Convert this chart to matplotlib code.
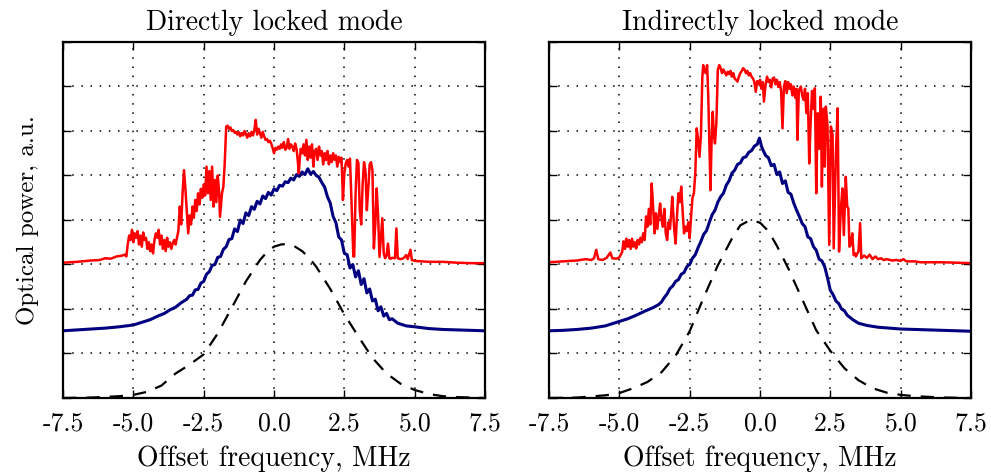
import matplotlib
matplotlib.use("Agg")
import matplotlib.pyplot as plt

# Directly locked mode
direct_red_x = [-7.5, -7.0, -6.5, -6.2, -6.0, -5.8, -5.6, -5.4, -5.3, -5.25, -5.2, -5.15, -5.1, -5.05, -5.0,
                -4.95, -4.9, -4.85, -4.8, -4.75, -4.7, -4.65, -4.6, -4.55, -4.5, -4.45, -4.4, -4.35, -4.3, -4.25,
                -4.2, -4.15, -4.1, -4.05, -4.0, -3.95, -3.9, -3.85, -3.8, -3.75, -3.7, -3.65, -3.6, -3.55, -3.5,
                -3.45, -3.4, -3.35, -3.3, -3.25, -3.2, -3.15, -3.1, -3.05, -3.0, -2.95, -2.9, -2.85, -2.8, -2.75,
                -2.7, -2.65, -2.6, -2.55, -2.5, -2.45, -2.4, -2.35, -2.3, -2.25, -2.2, -2.15, -2.1, -2.05, -2.0,
                -1.95, -1.92, -1.85, -1.8, -1.75, -1.7, -1.65, -1.6, -1.55, -1.5, -1.45, -1.4, -1.35, -1.3, -1.25,
                -1.2, -1.15, -1.1, -1.05, -1.0, -0.95, -0.9, -0.85, -0.8, -0.75, -0.7, -0.65, -0.6, -0.55, -0.5,
                -0.45, -0.4, -0.35, -0.3, -0.25, -0.2, -0.15, -0.1, -0.05, 0.0, 0.05, 0.1, 0.15, 0.2, 0.25,
                0.3, 0.35, 0.4, 0.45, 0.5, 0.55, 0.6, 0.65, 0.7, 0.75, 0.8, 0.85, 0.88, 0.92, 0.95,
                1.0, 1.05, 1.1, 1.15, 1.2, 1.25, 1.3, 1.35, 1.4, 1.45, 1.5, 1.55, 1.6, 1.65, 1.7,
                1.75, 1.8, 1.85, 1.9, 1.95, 2.0, 2.05, 2.1, 2.15, 2.2, 2.25, 2.3, 2.35, 2.4, 2.45,
                2.5, 2.55, 2.6, 2.65, 2.7, 2.75, 2.82, 2.85, 2.9, 2.95, 3.0, 3.05, 3.1, 3.15, 3.2,
                3.25, 3.3, 3.35, 3.4, 3.45, 3.5, 3.55, 3.6, 3.65, 3.7, 3.75, 3.8, 3.85, 3.9, 3.95,
                4.0, 4.05, 4.1, 4.15, 4.2, 4.3, 4.35, 4.4, 4.5, 4.6, 4.7, 4.75, 4.85, 4.9, 5.0,
                5.5, 6.0, 6.5, 7.0, 7.5]
direct_red_y = [3.04, 3.06, 3.09, 3.10, 3.14, 3.13, 3.18, 3.20, 3.22, 3.18, 3.45, 3.65, 3.55, 3.78, 3.50,
                3.70, 3.60, 3.75, 3.45, 3.65, 3.40, 3.72, 3.55, 3.60, 3.35, 3.50, 3.30, 3.45, 3.25, 3.55,
                3.70, 3.60, 3.78, 3.45, 3.65, 3.35, 3.55, 3.30, 3.60, 3.40, 3.50, 3.35, 3.48, 3.55, 3.45,
                3.60, 3.75, 4.30, 3.90, 4.60, 5.12, 4.70, 4.20, 3.70, 4.10, 3.90, 4.30, 4.05, 4.45, 4.20,
                4.60, 4.35, 4.70, 4.50, 4.80, 4.55, 5.20, 4.60, 5.10, 4.45, 5.20, 4.30, 4.90, 4.40, 5.00,
                4.60, 4.07, 4.60, 4.75, 5.30, 6.10, 6.12, 6.05, 6.08, 6.00, 6.02, 5.96, 5.98, 5.92, 5.97,
                5.88, 5.95, 5.90, 6.00, 5.93, 5.85, 5.95, 5.88, 5.98, 5.90, 6.02, 6.25, 5.92, 6.05, 5.95,
                5.85, 5.98, 5.88, 5.80, 5.82, 5.75, 5.78, 5.72, 5.62, 5.50, 5.62, 5.58, 5.65, 5.60, 5.70,
                5.62, 5.75, 5.58, 5.62, 5.82, 5.60, 5.70, 5.65, 5.55, 5.72, 5.60, 5.30, 5.05, 5.40, 5.60,
                5.50, 5.70, 5.45, 5.80, 5.35, 5.65, 5.40, 5.70, 5.20, 5.55, 5.60, 5.35, 5.65, 5.45, 5.55,
                5.25, 5.50, 5.35, 5.55, 5.25, 5.45, 5.30, 5.50, 5.35, 5.45, 5.20, 5.42, 5.30, 5.40, 4.45,
                5.05, 5.27, 5.35, 5.20, 5.38, 4.50, 3.18, 3.18, 4.60, 5.35, 5.28, 4.20, 3.90, 4.80, 5.30,
                5.10, 4.22, 4.70, 5.25, 5.30, 5.10, 3.36, 3.90, 4.71, 4.10, 3.17, 3.60, 4.04, 3.25, 3.14,
                3.20, 3.47, 3.14, 3.13, 3.15, 3.14, 3.81, 3.14, 3.12, 3.14, 3.21, 3.12, 3.33, 3.10, 3.08,
                3.06, 3.06, 3.04, 3.03, 3.03]

direct_blue_x = [-7.5, -7.0, -6.5, -6.0, -5.5, -5.0, -4.7, -4.4, -4.1, -3.9, -3.7, -3.5, -3.3, -3.1,
                 -3.0, -2.9, -2.8, -2.7, -2.6, -2.5, -2.4, -2.3, -2.2, -2.1, -2.0, -1.9, -1.8, -1.7,
                 -1.6, -1.5, -1.4, -1.3, -1.2, -1.1, -1.0, -0.9, -0.8, -0.7, -0.6, -0.5, -0.4, -0.3,
                 -0.2, -0.1, 0.0, 0.1, 0.2, 0.3, 0.4, 0.5, 0.6, 0.7, 0.8, 0.9, 1.0, 1.1, 1.2, 1.3,
                 1.4, 1.5, 1.6, 1.7, 1.8, 1.9, 2.0, 2.1, 2.2, 2.3, 2.4, 2.5, 2.6, 2.7, 2.8, 2.9,
                 3.0, 3.1, 3.2, 3.3, 3.4, 3.5, 3.6, 3.7, 3.8, 3.9, 4.0, 4.1, 4.2, 4.4, 4.7, 5.0,
                 5.5, 6.0, 6.5, 7.0, 7.5]
direct_blue_y = [1.51, 1.53, 1.55, 1.57, 1.60, 1.64, 1.70, 1.76, 1.85, 1.90, 1.98, 2.04, 2.14, 2.22,
                 2.30, 2.31, 2.43, 2.44, 2.58, 2.62, 2.78, 2.84, 2.98, 3.00, 3.16, 3.18, 3.34, 3.40,
                 3.56, 3.58, 3.80, 3.74, 4.00, 3.92, 4.16, 4.10, 4.30, 4.24, 4.42, 4.36, 4.54, 4.48,
                 4.62, 4.56, 4.70, 4.66, 4.78, 4.76, 4.86, 4.84, 4.94, 4.90, 5.02, 4.98, 5.08, 5.02, 5.15, 5.03,
                 5.09, 5.00, 4.96, 4.84, 4.74, 4.52, 4.38, 4.08, 3.94, 3.62, 3.55, 3.25, 3.22, 2.92, 3.00, 2.72,
                 2.86, 2.55, 2.68, 2.36, 2.45, 2.18, 2.22, 1.96, 2.05, 1.84, 1.90, 1.76, 1.78, 1.68, 1.62, 1.60,
                 1.56, 1.54, 1.53, 1.52, 1.51]

direct_fit_x = [-7.5, -6.5, -5.5, -5.0, -4.5, -4.0, -3.5, -3.0, -2.5, -2.0, -1.5, -1.0, -0.5, -0.25,
                0.0, 0.25, 0.45, 0.7, 1.0, 1.25, 1.5, 2.0, 2.5, 3.0, 3.5, 4.0, 4.5, 5.0, 5.5, 6.0, 6.5, 7.5]
direct_fit_y = [0.0, 0.01, 0.04, 0.07, 0.14, 0.28, 0.55, 0.75, 0.98, 1.45, 2.03, 2.62, 3.10, 3.28,
                3.40, 3.45, 3.46, 3.42, 3.30, 3.15, 2.95, 2.45, 1.88, 1.38, 0.90, 0.55, 0.32, 0.18, 0.09, 0.04, 0.02, 0.0]

# Indirectly locked mode
indirect_red_x = [-7.5, -7.0, -6.5, -6.2, -6.0, -5.9, -5.82, -5.75, -5.6, -5.45, -5.32, -5.25, -5.1, -5.0,
                  -4.9, -4.85, -4.8, -4.75, -4.7, -4.65, -4.6, -4.55, -4.5, -4.45, -4.4, -4.35, -4.3, -4.25,
                  -4.2, -4.15, -4.1, -4.05, -4.0, -3.95, -3.9, -3.85, -3.8, -3.75, -3.7, -3.65, -3.6, -3.55,
                  -3.5, -3.45, -3.4, -3.35, -3.3, -3.25, -3.2, -3.15, -3.12, -3.05, -3.0, -2.95, -2.9, -2.85,
                  -2.8, -2.75, -2.7, -2.65, -2.6, -2.55, -2.5, -2.45, -2.4, -2.35, -2.3, -2.25, -2.2, -2.15,
                  -2.1, -2.05, -2.02, -1.98, -1.93, -1.88, -1.84, -1.8, -1.76, -1.72, -1.68, -1.64, -1.6, -1.55,
                  -1.5, -1.45, -1.4, -1.35, -1.3, -1.25, -1.2, -1.15, -1.1, -1.05, -1.0, -0.95, -0.9, -0.85,
                  -0.8, -0.75, -0.7, -0.65, -0.6, -0.55, -0.5, -0.45, -0.4, -0.35, -0.3, -0.25, -0.2, -0.15,
                  -0.1, -0.05, 0.0, 0.05, 0.1, 0.14, 0.2, 0.25, 0.3, 0.35, 0.4, 0.45, 0.5, 0.55,
                  0.6, 0.65, 0.7, 0.75, 0.8, 0.85, 0.9, 0.95, 1.0, 1.05, 1.1, 1.15, 1.2, 1.25,
                  1.3, 1.33, 1.38, 1.45, 1.5, 1.55, 1.6, 1.65, 1.7, 1.75, 1.8, 1.85, 1.9, 1.95,
                  2.0, 2.05, 2.1, 2.16, 2.2, 2.25, 2.3, 2.34, 2.4, 2.46, 2.52, 2.58, 2.62, 2.7,
                  2.76, 2.81, 2.87, 2.93, 2.98, 3.05, 3.1, 3.14, 3.18, 3.23, 3.28, 3.33, 3.38, 3.41,
                  3.46, 3.5, 3.56, 3.6, 3.7, 3.8, 3.9, 4.0, 4.1, 4.2, 4.3, 4.4, 4.5, 4.7,
                  4.85, 5.0, 5.1, 5.2, 5.5, 5.7, 6.0, 6.5, 7.0, 7.5]
indirect_red_y = [3.05, 3.07, 3.09, 3.12, 3.10, 3.14, 3.33, 3.12, 3.10, 3.15, 3.27, 3.14, 3.13, 3.16,
                  3.28, 3.52, 3.35, 3.58, 3.40, 3.55, 3.35, 3.58, 3.40, 3.50, 3.36, 3.55, 3.45, 3.60,
                  3.50, 3.70, 3.55, 4.08, 3.85, 4.25, 3.90, 4.82, 4.30, 3.70, 4.15, 3.80, 4.10, 4.37,
                  4.00, 3.85, 4.25, 3.70, 3.55, 3.95, 3.80, 4.20, 4.52, 3.80, 3.47, 4.10, 4.60, 4.40,
                  4.75, 4.20, 3.70, 3.85, 3.75, 3.95, 3.59, 4.08, 4.50, 4.60, 5.05, 6.06, 5.80, 5.42,
                  5.90, 7.20, 7.48, 7.35, 7.30, 7.48, 6.80, 5.70, 4.67, 5.80, 6.43, 5.90, 5.72, 6.20,
                  7.37, 7.48, 7.42, 7.30, 7.38, 7.32, 7.25, 7.33, 7.28, 7.35, 7.22, 7.30, 7.18, 7.15,
                  7.11, 7.22, 7.30, 7.35, 7.41, 7.38, 7.30, 7.35, 7.25, 7.30, 7.22, 7.18, 7.10, 6.88,
                  7.12, 7.05, 7.15, 6.95, 7.10, 6.66, 7.05, 7.22, 7.10, 7.15, 6.98, 7.18, 7.20, 7.05,
                  7.15, 6.99, 7.10, 6.90, 6.06, 7.00, 7.12, 6.85, 7.10, 6.95, 7.05, 6.80, 7.00, 6.75,
                  6.95, 5.80, 6.90, 7.00, 6.80, 6.70, 6.95, 6.40, 6.85, 5.27, 6.20, 6.90, 6.50, 6.96,
                  4.60, 6.40, 5.60, 6.77, 4.75, 6.50, 5.20, 6.55, 6.13, 3.44, 6.10, 5.91, 3.36, 5.53,
                  6.51, 3.29, 4.20, 4.71, 3.66, 4.97, 4.30, 4.26, 3.40, 3.45, 3.70, 3.21, 3.25, 3.18,
                  3.25, 3.30, 3.93, 3.14, 3.20, 3.15, 3.22, 3.12, 3.18, 3.12, 3.14, 3.10, 3.12, 3.09,
                  3.10, 3.08, 3.12, 3.07, 3.07, 3.05, 3.05, 3.05, 3.04, 3.03]

indirect_blue_x = [-7.5, -7.0, -6.5, -6.0, -5.5, -5.0, -4.7, -4.4, -4.1, -3.8, -3.6, -3.5, -3.4, -3.3,
                   -3.2, -3.1, -3.0, -2.9, -2.8, -2.7, -2.6, -2.5, -2.4, -2.3, -2.2, -2.1, -2.0, -1.9,
                   -1.8, -1.7, -1.6, -1.5, -1.4, -1.3, -1.2, -1.1, -1.0, -0.9, -0.8, -0.7, -0.6, -0.5,
                   -0.4, -0.3, -0.2, -0.1, -0.02, 0.05, 0.1, 0.2, 0.3, 0.4, 0.5, 0.6, 0.7, 0.8,
                   0.9, 1.0, 1.1, 1.2, 1.3, 1.4, 1.5, 1.6, 1.7, 1.8, 1.9, 2.0, 2.1, 2.2,
                   2.3, 2.4, 2.5, 2.6, 2.7, 2.8, 2.9, 3.0, 3.1, 3.3, 3.5, 3.8, 4.2, 4.6,
                   5.0, 5.5, 6.0, 6.5, 7.0, 7.5]
indirect_blue_y = [1.51, 1.52, 1.54, 1.57, 1.62, 1.72, 1.78, 1.86, 1.95, 2.03, 2.10, 2.16, 2.26, 2.34,
                   2.46, 2.52, 2.62, 2.66, 2.78, 2.82, 2.95, 3.00, 3.14, 3.22, 3.38, 3.52, 3.68, 3.76,
                   3.95, 4.12, 4.22, 4.40, 4.52, 4.60, 4.78, 4.88, 5.05, 5.12, 5.25, 5.28, 5.40, 5.42,
                   5.52, 5.56, 5.66, 5.70, 5.84, 5.66, 5.58, 5.45, 5.40, 5.22, 5.25, 5.02, 5.08, 4.82,
                   4.88, 4.62, 4.58, 4.38, 4.22, 4.08, 3.92, 3.85, 3.62, 3.58, 3.40, 3.32, 3.12, 3.08,
                   2.95, 2.70, 2.42, 2.32, 2.18, 2.12, 2.00, 1.96, 1.86, 1.76, 1.68, 1.63, 1.59, 1.57,
                   1.55, 1.54, 1.53, 1.52, 1.51, 1.50]

indirect_fit_x = [-7.5, -6.5, -5.5, -5.0, -4.5, -4.0, -3.5, -3.0, -2.5, -2.0, -1.5, -1.0, -0.7, -0.35,
                  0.0, 0.3, 0.6, 1.0, 1.5, 2.0, 2.5, 3.0, 3.5, 4.0, 4.5, 5.0, 5.5, 6.5, 7.5]
indirect_fit_y = [0.0, 0.01, 0.06, 0.11, 0.22, 0.36, 0.58, 0.95, 1.50, 2.26, 2.98, 3.58, 3.88, 4.00,
                  3.94, 3.75, 3.42, 2.92, 2.22, 1.52, 1.06, 0.67, 0.40, 0.22, 0.12, 0.07, 0.04, 0.01, 0.0]

x_ticks = [-7.5, -5.0, -2.5, 0.0, 2.5, 5.0, 7.5]
x_tick_labels = ["-7.5", "-5.0", "-2.5", "0.0", "2.5", "5.0", "7.5"]
y_ticks = [0, 1, 2, 3, 4, 5, 6, 7, 8]

plt.rcParams["font.family"] = ["cmr10", "DejaVu Serif"]
plt.rcParams["axes.formatter.use_mathtext"] = True

fig = plt.figure(figsize=(9.91, 4.73), dpi=100)
ax1 = fig.add_axes([0.0636, 0.1586, 0.4258, 0.7526])
ax2 = fig.add_axes([0.5540, 0.1586, 0.4258, 0.7526])

panels = [
    (ax1, "Directly locked mode", direct_red_x, direct_red_y, direct_blue_x, direct_blue_y,
     direct_fit_x, direct_fit_y),
    (ax2, "Indirectly locked mode", indirect_red_x, indirect_red_y, indirect_blue_x, indirect_blue_y,
     indirect_fit_x, indirect_fit_y),
]

for ax, title, rx, ry, bx, by, fx, fy in panels:
    ax.plot(fx, fy, color="black", lw=1.6, dashes=(6, 4.5))
    ax.plot(bx, by, color="#000080", lw=2.2)
    ax.plot(rx, ry, color="#ff0000", lw=1.8)
    ax.set_xlim(-7.5, 7.5)
    ax.set_ylim(0, 8)
    ax.set_xticks(x_ticks)
    ax.set_xticklabels(x_tick_labels, fontsize=18.5)
    ax.set_yticks(y_ticks)
    ax.set_yticklabels([])
    ax.grid(True, color="black", linestyle=(0, (1, 5)), lw=1.1)
    ax.tick_params(direction="in", length=6, width=1, top=True, right=True, pad=10)
    for sp in ax.spines.values():
        sp.set_linewidth(1.6)
    ax.set_title(title, fontsize=20, pad=9)
    ax.set_xlabel("Offset frequency, MHz", fontsize=20, labelpad=7)

ax1.set_ylabel("Optical power, a.u.", fontsize=18, labelpad=7)

fig.savefig("out.png", dpi=100)
